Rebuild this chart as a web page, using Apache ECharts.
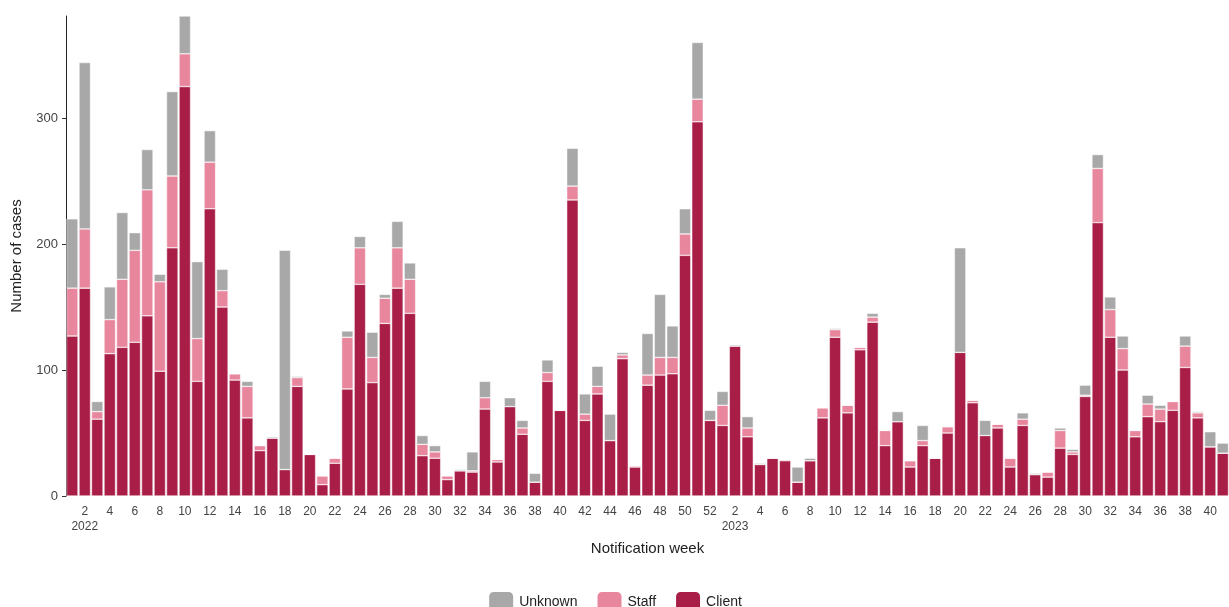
<!DOCTYPE html>
<html>
<head>
<meta charset="utf-8">
<title>Notifications</title>
<script src="https://cdn.jsdelivr.net/npm/echarts@6/dist/echarts.min.js"></script>
<style>
    html, body { margin: 0; padding: 0; background: #fff; }
    #chart { width: 1229px; height: 607px; }
</style>
</head>
<body>
<div id="chart"></div>
<script>
    // week labels: 2022 wk 1-52, 2023 wk 1-41
    var weeks = [];
    for (var i = 1; i <= 52; i++) weeks.push('2022-' + i);
    for (var j = 1; j <= 41; j++) weeks.push('2023-' + j);

    // top of client, top of staff, total height
    var clientTop = [127,165,61,113,118,122,143,99,197,325,91,228,150,92,62,36,46,21,87,33,9,26,85,168,90,137,165,145,32,30,13,20,19,69,27,71,49,11,91,68,235,60,81,44,109,23,88,96,97,191,297,60,
        56,119,47,25,30,28,11,28,62,126,66,116,138,40,59,23,40,30,50,114,74,48,54,23,56,17,15,38,33,79,217,126,100,47,63,59,68,102,62,39,34];
    var staffTop = [165,212,67,140,172,195,243,170,254,351,125,265,163,97,87,40,46,21,94,33,16,30,126,197,110,157,197,172,41,35,16,20,20,78,29,71,54,11,98,68,246,65,87,44,112,24,96,110,110,208,315,60,
        72,119,54,25,30,29,11,28,70,132,72,118,142,52,59,28,44,30,55,114,76,48,57,30,61,17,19,52,35,80,260,148,117,52,73,69,75,119,66,39,34];
    var totalTop = [220,344,75,166,225,209,275,176,321,381,186,290,180,97,91,40,47,195,95,33,16,30,131,206,130,160,218,185,48,40,16,21,35,91,29,78,60,18,108,68,276,81,103,65,114,24,129,160,135,228,360,68,
        83,120,63,26,30,29,23,30,70,133,72,118,145,52,67,28,56,30,55,197,76,60,57,30,66,18,19,54,37,88,271,158,127,52,80,72,75,127,67,51,42];

    var client = clientTop.slice();
    var staff = staffTop.map(function (v, k) { return v - clientTop[k]; });
    var unknown = totalTop.map(function (v, k) { return v - staffTop[k]; });

    var chart = echarts.init(document.getElementById('chart'));
    var bar = function (name, data, color) {
        return {
            name: name, type: 'bar', stack: 'all', data: data,
            barCategoryGap: '8%',
            itemStyle: { color: color, borderColor: '#fff', borderWidth: 0.5 }
        };
    };
    chart.setOption({
        animation: false,
        textStyle: { fontFamily: 'Liberation Sans, Arial, sans-serif' },
        grid: { left: 66, right: 0, top: 16, bottom: 111 },
        legend: {
            top: 585, left: 'center', itemWidth: 26, itemHeight: 22, itemGap: 18,
            textStyle: { fontSize: 14, color: '#222' },
            data: ['Unknown', 'Staff', 'Client']
        },
        xAxis: {
            type: 'category', data: weeks,
            name: 'Notification week', nameLocation: 'middle', nameGap: 45,
            nameTextStyle: { fontSize: 15, color: '#222' },
            axisLine: { show: false },
            axisTick: {
                length: 4, lineStyle: { color: '#333' },
                interval: function (idx) { return Number(weeks[idx].split('-')[1]) % 2 === 0; },
                alignWithLabel: true
            },
            axisLabel: {
                interval: 0, color: '#444', fontSize: 12, lineHeight: 15,
                formatter: function (v) {
                    var p = v.split('-'), w = Number(p[1]);
                    if (w % 2) return '';
                    return w === 2 ? '2\n' + p[0] : String(w);
                }
            }
        },
        yAxis: {
            type: 'value', min: 0, max: 381, interval: 100,
            name: 'Number of cases', nameLocation: 'middle', nameGap: 42,
            nameTextStyle: { fontSize: 15, color: '#222' },
            axisLine: { show: true, lineStyle: { color: '#222' } },
            axisTick: { show: true, length: 4, lineStyle: { color: '#333' } },
            axisLabel: { color: '#444', fontSize: 13, showMaxLabel: false },
            splitLine: { show: false }
        },
        series: [
            bar('Client', client, '#a91e47'),
            bar('Staff', staff, '#e8869e'),
            bar('Unknown', unknown, '#a8a8a8')
        ]
    });
</script>
</body>
</html>
